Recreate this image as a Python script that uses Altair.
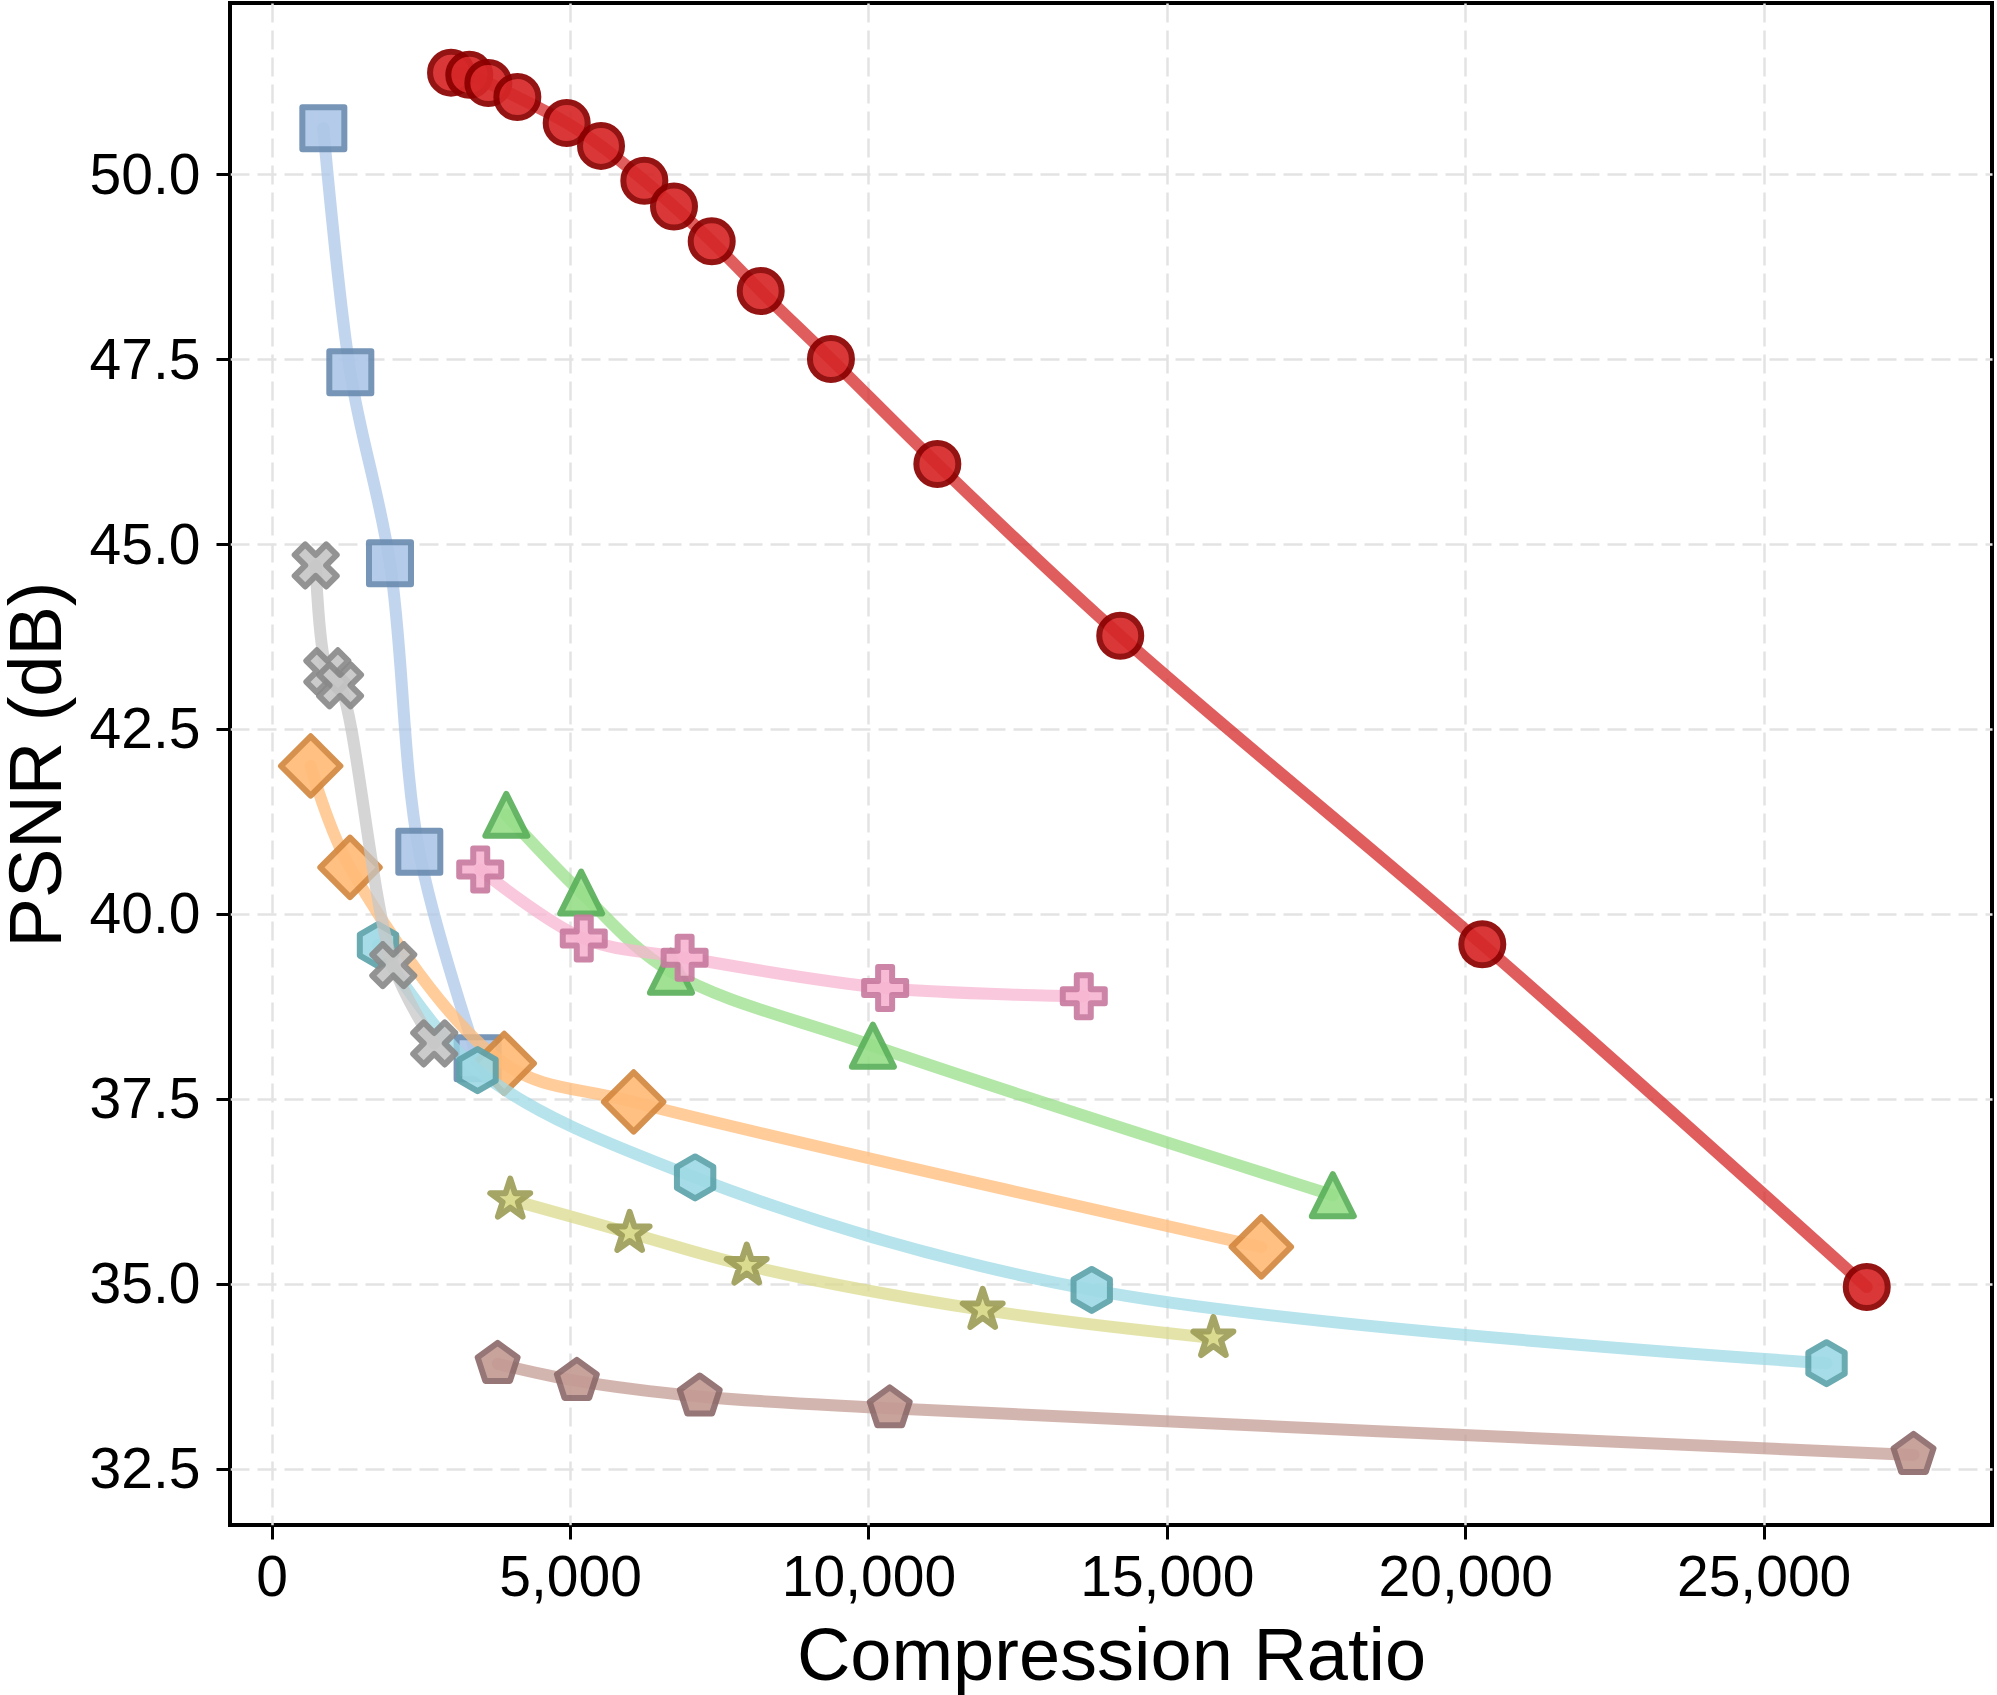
import altair as alt
import pandas as pd

FONT = "Liberation Sans"

# ---------------- data ----------------
ratio_red = [3005, 3311, 3630, 4116, 4943, 5518, 6244, 6741, 7373, 8194, 9371, 11154, 14219, 20286, 26728]
psnr_red = [51.37, 51.34, 51.23, 51.04, 50.69, 50.38, 49.91, 49.56, 49.09, 48.42, 47.50, 46.08, 43.76, 39.59, 34.96]

ratio_blue = [865, 1317, 1982, 2473, 3450]
psnr_blue = [50.62, 47.32, 44.74, 40.84, 38.05]

ratio_gray = [737, 932, 1145, 2037, 2723]
psnr_gray = [44.71, 43.28, 43.09, 39.31, 38.25]

ratio_orange = [653, 1312, 3896, 6065, 16583]
psnr_orange = [42.00, 40.63, 37.98, 37.46, 35.50]

ratio_green = [3931, 5185, 6690, 10074, 17781]
psnr_green = [41.34, 40.29, 39.22, 38.22, 36.20]

ratio_pink = [3494, 5229, 6919, 10279, 13608]
psnr_pink = [40.60, 39.67, 39.41, 39.00, 38.89]

ratio_cyan = [1781, 3449, 7095, 13741, 26054]
psnr_cyan = [39.58, 37.89, 36.44, 34.92, 33.93]

ratio_olive = [3997, 5998, 7960, 11914, 15780]
psnr_olive = [36.14, 35.69, 35.25, 34.65, 34.27]

ratio_brown = [3786, 5113, 7172, 10356, 27512]
psnr_brown = [33.92, 33.69, 33.48, 33.32, 32.69]

x_ticks = [0, 5000, 10000, 15000, 20000, 25000]
y_ticks = [32.5, 35.0, 37.5, 40.0, 42.5, 45.0, 47.5, 50.0]

# ---------------- marker shapes (unit paths) ----------------
SQUARE = "M-1,-1L1,-1L1,1L-1,1Z"
DIAMOND = "M0,-1.414L1.414,0L0,1.414L-1.414,0Z"
TRIANGLE = "M0,-1L1,1L-1,1Z"
PLUS = ("M-0.333,-1L0.333,-1L0.333,-0.333L1,-0.333L1,0.333L0.333,0.333L0.333,1"
        "L-0.333,1L-0.333,0.333L-1,0.333L-1,-0.333L-0.333,-0.333Z")
XFILL = ("M-0.5,-1L0,-0.5L0.5,-1L1,-0.5L0.5,0L1,0.5L0.5,1L0,0.5L-0.5,1L-1,0.5"
         "L-0.5,0L-1,-0.5Z")
HEXAGON = "M0,-1L0.866,-0.5L0.866,0.5L0,1L-0.866,0.5L-0.866,-0.5Z"
PENTAGON = "M0,-1L0.951,-0.309L0.588,0.809L-0.588,0.809L-0.951,-0.309Z"
STAR = ("M0,-1L0.2245,-0.309L0.951,-0.309L0.363,0.118L0.588,0.809L0,0.382"
        "L-0.588,0.809L-0.363,0.118L-0.951,-0.309L-0.2245,-0.309Z")

# (x, y, shape, fill, edge, line colour) in drawing order
series = [
    (ratio_blue, psnr_blue, SQUARE, "#aec7e8", "#6b8db1", "#aec7e8"),
    (ratio_orange, psnr_orange, DIAMOND, "#ffbb78", "#d4883f", "#ffbb78"),
    (ratio_cyan, psnr_cyan, HEXAGON, "#9edae5", "#5ea3ab", "#9edae5"),
    (ratio_gray, psnr_gray, XFILL, "#c7c7c7", "#8a8a8a", "#c7c7c7"),
    (ratio_green, psnr_green, TRIANGLE, "#98df8a", "#5bb05b", "#98df8a"),
    (ratio_pink, psnr_pink, PLUS, "#f7b6d2", "#c97ba0", "#f7b6d2"),
    (ratio_olive, psnr_olive, STAR, "#dbdb8d", "#9e9e58", "#dbdb8d"),
    (ratio_brown, psnr_brown, PENTAGON, "#c49c94", "#8e6b6b", "#c49c94"),
    (ratio_red, psnr_red, "circle", "#d62728", "#8b0000", "#d62728"),
]

x_scale = alt.Scale(domain=[-699, 28827], nice=False, zero=False)
y_scale = alt.Scale(domain=[31.743, 52.311], nice=False, zero=False)

x_axis = alt.Axis(
    values=x_ticks, format=",.0f", labelFont=FONT, labelFontSize=57, labelColor="black",
    labelPadding=11, tickSize=14, tickWidth=3, tickColor="black", domain=False,
    grid=True, gridColor="#e3e3e3", gridWidth=2.5, gridDash=[19, 8],
    title="Compression Ratio", titleFont=FONT, titleFontSize=74, titleFontWeight="normal",
    titleColor="black", titleBaseline="alphabetic", titleY=154, titleAlign="center",
)
y_axis = alt.Axis(
    values=y_ticks, format=".1f", labelFont=FONT, labelFontSize=57, labelColor="black",
    labelPadding=16, labelOffset=2, tickSize=14, tickWidth=3, tickColor="black", domain=False,
    grid=True, gridColor="#e3e3e3", gridWidth=2.5, gridDash=[19, 8],
    title="PSNR (dB)", titleFont=FONT, titleFontSize=74, titleFontWeight="normal",
    titleColor="black", titleBaseline="alphabetic", titleAngle=270, titleX=-170,
    titleY=761, titleAlign="center",
)

xenc = alt.X("ratio:Q", scale=x_scale, axis=x_axis)
yenc = alt.Y("psnr:Q", scale=y_scale, axis=y_axis)

layers = []
for xs, ys, shape, fill, edge, lcol in series:
    df = pd.DataFrame({"ratio": xs, "psnr": ys})
    line = alt.Chart(df).mark_line(
        color=lcol, strokeWidth=12, opacity=0.75, interpolate="catmull-rom", strokeCap="round"
    ).encode(x=xenc, y=yenc)
    pts = alt.Chart(df).mark_point(
        shape=shape, size=1764, filled=True, fill=fill, stroke=edge, strokeWidth=6,
        opacity=0.92, strokeJoin="round",
    ).encode(x=xenc, y=yenc)
    layers += [line, pts]

chart = alt.layer(*layers).properties(
    width=1762, height=1522,
    padding={"left": 230, "top": 3, "right": 5, "bottom": 170},
    autosize=alt.AutoSizeParams(type="none"),
    background="white",
).configure_view(stroke="black", strokeWidth=4)

chart.save("out.html", embed_options={"renderer": "svg", "actions": False})
